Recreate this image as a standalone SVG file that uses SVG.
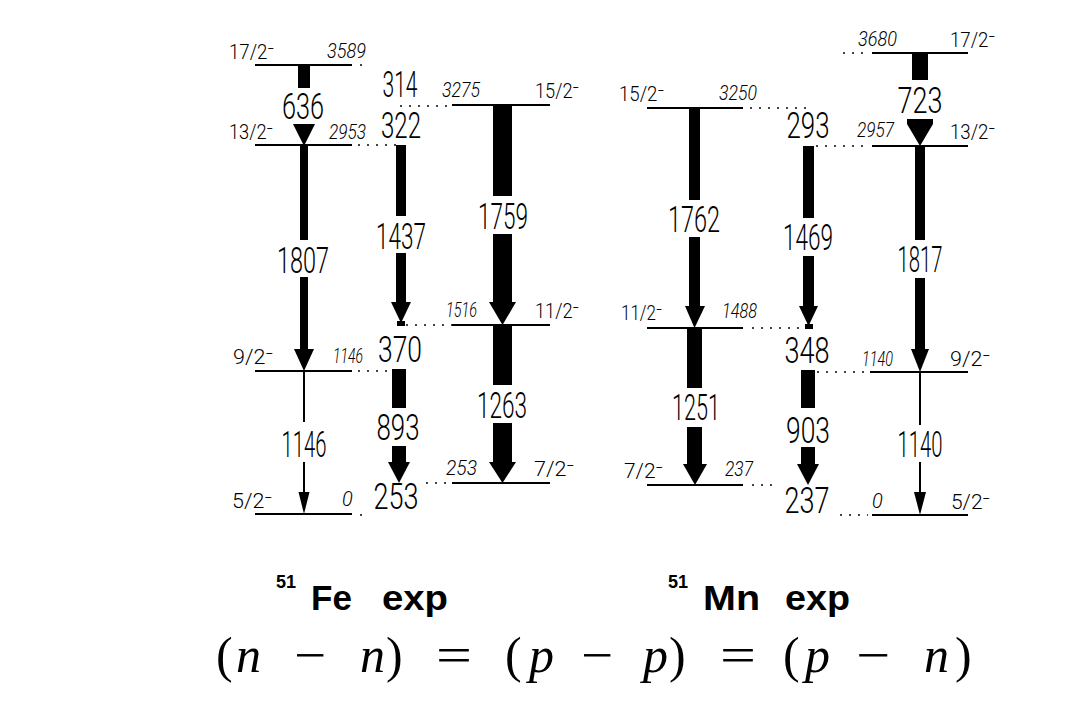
<svg xmlns="http://www.w3.org/2000/svg" width="1080" height="712" viewBox="0 0 1080 712">
<defs>
<style>
.lv{stroke:#000;stroke-width:2;fill:none}
.dt{stroke:#444;stroke-width:2;stroke-dasharray:2 7;fill:none}
.ar{fill:#000;stroke:none}
.tl{stroke:#000;stroke-width:2;fill:none}
.g{font-family:Roboto,"Liberation Sans",Arial,sans-serif;font-weight:300;font-size:36px;text-anchor:middle;fill:#000}
.e{font-family:Roboto,"Liberation Sans",Arial,sans-serif;font-weight:300;font-size:20px;font-style:italic;fill:#000}
.s{font-family:Roboto,"DejaVu Sans",sans-serif;font-weight:300;font-size:20px;fill:#000}
.t{font-family:"Liberation Sans",Arial,sans-serif;font-weight:bold;fill:#000}
.f{font-family:"Liberation Serif","Times New Roman",serif;font-size:50px;fill:#000}
.fi{font-family:"Liberation Serif","Times New Roman",serif;font-size:50px;font-style:italic;fill:#000}
</style>
</defs>
<rect width="1080" height="712" fill="#fff"/>

<!-- ===== 51Fe levels ===== -->
<g id="fe-3589">
<line class="lv" x1="255" y1="65" x2="352" y2="65"/>
<text class="s" x="229" y="59" textLength="45" lengthAdjust="spacingAndGlyphs">17/2⁻</text>
<text class="e" x="327" y="58" textLength="39" lengthAdjust="spacingAndGlyphs">3589</text>
</g>
<g id="fe-2953">
<line class="lv" x1="255" y1="145" x2="352" y2="145"/>
<text class="s" x="229" y="139" textLength="44" lengthAdjust="spacingAndGlyphs">13/2⁻</text>
<text class="e" x="329" y="139" textLength="37" lengthAdjust="spacingAndGlyphs">2953</text>
</g>
<g id="fe-1146">
<line class="lv" x1="255" y1="371" x2="352" y2="371"/>
<text class="s" x="233" y="364" textLength="40" lengthAdjust="spacingAndGlyphs">9/2⁻</text>
<text class="e" x="333" y="363" textLength="30" lengthAdjust="spacingAndGlyphs">1146</text>
</g>
<g id="fe-0">
<line class="lv" x1="255" y1="514" x2="352" y2="514"/>
<text class="s" x="232" y="508" textLength="40" lengthAdjust="spacingAndGlyphs">5/2⁻</text>
<text class="e" x="342" y="506">0</text>
</g>
<g id="fe-3275">
<line class="lv" x1="452" y1="105" x2="550" y2="105"/>
<text class="e" x="442" y="97" textLength="38" lengthAdjust="spacingAndGlyphs">3275</text>
<text class="s" x="535" y="98" textLength="44" lengthAdjust="spacingAndGlyphs">15/2⁻</text>
</g>
<g id="fe-1516">
<line class="lv" x1="452" y1="325" x2="550" y2="325"/>
<text class="e" x="446" y="317" textLength="31" lengthAdjust="spacingAndGlyphs">1516</text>
<text class="s" x="535" y="318" textLength="44" lengthAdjust="spacingAndGlyphs">11/2⁻</text>
</g>
<g id="fe-253">
<line class="lv" x1="452" y1="483" x2="550" y2="483"/>
<text class="e" x="446" y="475" textLength="31" lengthAdjust="spacingAndGlyphs">253</text>
<text class="s" x="534" y="476" textLength="40" lengthAdjust="spacingAndGlyphs">7/2⁻</text>
</g>

<!-- ===== 51Mn levels ===== -->
<g id="mn-3250">
<line class="lv" x1="647" y1="108" x2="743" y2="108"/>
<text class="s" x="619" y="101" textLength="45" lengthAdjust="spacingAndGlyphs">15/2⁻</text>
<text class="e" x="719" y="100" textLength="38" lengthAdjust="spacingAndGlyphs">3250</text>
</g>
<g id="mn-1488">
<line class="lv" x1="647" y1="328" x2="743" y2="328"/>
<text class="s" x="621" y="320" textLength="41" lengthAdjust="spacingAndGlyphs">11/2⁻</text>
<text class="e" x="722" y="318" textLength="35" lengthAdjust="spacingAndGlyphs">1488</text>
</g>
<g id="mn-237">
<line class="lv" x1="647" y1="485" x2="743" y2="485"/>
<text class="s" x="624" y="478" textLength="39" lengthAdjust="spacingAndGlyphs">7/2⁻</text>
<text class="e" x="725" y="476" textLength="28" lengthAdjust="spacingAndGlyphs">237</text>
</g>
<g id="mn-3680">
<line class="lv" x1="872" y1="53" x2="968" y2="53"/>
<text class="e" x="858" y="46" textLength="39" lengthAdjust="spacingAndGlyphs">3680</text>
<text class="s" x="950" y="47" textLength="45" lengthAdjust="spacingAndGlyphs">17/2⁻</text>
</g>
<g id="mn-2957">
<line class="lv" x1="872" y1="146" x2="968" y2="146"/>
<text class="e" x="857" y="137" textLength="37" lengthAdjust="spacingAndGlyphs">2957</text>
<text class="s" x="950" y="139" textLength="45" lengthAdjust="spacingAndGlyphs">13/2⁻</text>
</g>
<g id="mn-1140">
<line class="lv" x1="870" y1="372" x2="968" y2="372"/>
<text class="e" x="862" y="366" textLength="31" lengthAdjust="spacingAndGlyphs">1140</text>
<text class="s" x="950" y="366" textLength="40" lengthAdjust="spacingAndGlyphs">9/2⁻</text>
</g>
<g id="mn-0">
<line class="lv" x1="872" y1="515" x2="968" y2="515"/>
<text class="e" x="872" y="508">0</text>
<text class="s" x="951" y="509" textLength="39" lengthAdjust="spacingAndGlyphs">5/2⁻</text>
</g>

<!-- ===== connectors: transitions and dotted guides ===== -->
<g id="connectors">
<line class="dt" x1="360" y1="65" x2="366" y2="65"/>
<line class="dt" x1="358" y1="145" x2="398" y2="145"/>
<line class="dt" x1="400" y1="106" x2="451" y2="106"/>
<line class="dt" x1="406" y1="325" x2="452" y2="325"/>
<line class="dt" x1="358" y1="371" x2="396" y2="371"/>
<line class="dt" x1="426" y1="483" x2="452" y2="483"/>
<line class="dt" x1="360" y1="515" x2="366" y2="515"/>
<line class="dt" x1="750" y1="108" x2="812" y2="108"/>
<line class="dt" x1="816" y1="146" x2="870" y2="146"/>
<line class="dt" x1="843" y1="53" x2="870" y2="53"/>
<line class="dt" x1="752" y1="328" x2="800" y2="328"/>
<line class="dt" x1="817" y1="372" x2="868" y2="372"/>
<line class="dt" x1="752" y1="485" x2="776" y2="485"/>
<line class="dt" x1="840" y1="515" x2="868" y2="515"/>

<g id="g636">
<rect class="ar" x="298" y="65" width="12" height="23"/>
<polygon class="ar" points="293,124 315,124 304,146"/>
<text class="g" x="303" y="119" textLength="42" lengthAdjust="spacingAndGlyphs">636</text>
</g>
<g id="g1807">
<rect class="ar" x="300" y="145" width="8" height="95"/>
<rect class="ar" x="300" y="277" width="8" height="74"/>
<polygon class="ar" points="294,349 314,349 304,371"/>
<text class="g" x="303" y="273" textLength="52" lengthAdjust="spacingAndGlyphs">1807</text>
</g>
<g id="g1146">
<line class="tl" x1="304" y1="371" x2="304" y2="422"/>
<line class="tl" x1="304" y1="462" x2="304" y2="494"/>
<polygon class="ar" points="298.5,492 309.5,492 304,514"/>
<text class="g" x="304" y="457" textLength="45" lengthAdjust="spacingAndGlyphs">1146</text>
</g>
<g id="g314">
<text class="g" x="400" y="97" textLength="35" lengthAdjust="spacingAndGlyphs">314</text>
</g>
<g id="g322">
<text class="g" x="401" y="138" textLength="40" lengthAdjust="spacingAndGlyphs">322</text>
</g>
<g id="g1437">
<rect class="ar" x="396" y="145" width="10" height="71"/>
<rect class="ar" x="396" y="253" width="10" height="51"/>
<polygon class="ar" points="391,302 411,302 401,323"/>
<rect class="ar" x="397" y="321" width="8" height="5"/>
<text class="g" x="401" y="249" textLength="50" lengthAdjust="spacingAndGlyphs">1437</text>
</g>
<g id="g1759">
<rect class="ar" x="493" y="105" width="19" height="91"/>
<rect class="ar" x="493" y="234" width="19" height="70"/>
<polygon class="ar" points="489,302 516,302 502.5,325"/>
<text class="g" x="503" y="229" textLength="50" lengthAdjust="spacingAndGlyphs">1759</text>
</g>
<g id="g370">
<text class="g" x="400" y="362" textLength="44" lengthAdjust="spacingAndGlyphs">370</text>
</g>
<g id="g893">
<rect class="ar" x="392" y="369" width="14" height="39"/>
<rect class="ar" x="392" y="446" width="14" height="18"/>
<polygon class="ar" points="388,462 410,462 399,483"/>
<text class="g" x="398" y="440" textLength="43" lengthAdjust="spacingAndGlyphs">893</text>
</g>
<g id="g1263">
<rect class="ar" x="493" y="325" width="19" height="60"/>
<rect class="ar" x="493" y="423" width="19" height="41"/>
<polygon class="ar" points="489,462 516,462 502.5,483"/>
<text class="g" x="502" y="418" textLength="50" lengthAdjust="spacingAndGlyphs">1263</text>
</g>
<g id="g253">
<text class="g" x="396" y="509" textLength="45" lengthAdjust="spacingAndGlyphs">253</text>
</g>

<g id="g723">
<rect class="ar" x="912" y="53" width="16" height="27"/>
<polygon class="ar" points="907,119 933,119 933,124 920,146 907,124"/>
<text class="g" x="920" y="113" textLength="45" lengthAdjust="spacingAndGlyphs">723</text>
</g>
<g id="g1762">
<rect class="ar" x="689" y="108" width="11" height="92"/>
<rect class="ar" x="689" y="237" width="11" height="71"/>
<polygon class="ar" points="685,306 705,306 694.5,328"/>
<text class="g" x="694" y="232" textLength="52" lengthAdjust="spacingAndGlyphs">1762</text>
</g>
<g id="g1251">
<rect class="ar" x="687" y="328" width="15" height="60"/>
<rect class="ar" x="687" y="427" width="15" height="39"/>
<polygon class="ar" points="683,464 707,464 695,485"/>
<text class="g" x="696" y="420" textLength="48" lengthAdjust="spacingAndGlyphs">1251</text>
</g>
<g id="g293">
<text class="g" x="808" y="138" textLength="43" lengthAdjust="spacingAndGlyphs">293</text>
</g>
<g id="g1469">
<rect class="ar" x="803" y="146" width="11" height="72"/>
<rect class="ar" x="803" y="256" width="11" height="52"/>
<polygon class="ar" points="799,306 818,306 808.5,326"/>
<rect class="ar" x="805" y="324" width="8" height="5"/>
<text class="g" x="808" y="250" textLength="50" lengthAdjust="spacingAndGlyphs">1469</text>
</g>
<g id="g348">
<text class="g" x="807" y="363" textLength="45" lengthAdjust="spacingAndGlyphs">348</text>
</g>
<g id="g903">
<rect class="ar" x="801" y="370" width="14" height="38"/>
<rect class="ar" x="801" y="447" width="14" height="19"/>
<polygon class="ar" points="797,464 819,464 808,485"/>
<text class="g" x="808" y="443" textLength="44" lengthAdjust="spacingAndGlyphs">903</text>
</g>
<g id="g237">
<text class="g" x="807" y="513" textLength="45" lengthAdjust="spacingAndGlyphs">237</text>
</g>
<g id="g1817">
<rect class="ar" x="915" y="146" width="10" height="94"/>
<rect class="ar" x="915" y="278" width="10" height="73"/>
<polygon class="ar" points="911,349 929,349 920,372"/>
<text class="g" x="920" y="272" textLength="45" lengthAdjust="spacingAndGlyphs">1817</text>
</g>
<g id="g1140">
<line class="tl" x1="920" y1="372" x2="920" y2="425"/>
<line class="tl" x1="920" y1="462" x2="920" y2="494"/>
<polygon class="ar" points="914,492 926,492 920,515"/>
<text class="g" x="920" y="457" textLength="45" lengthAdjust="spacingAndGlyphs">1140</text>
</g>
</g>

<g id="title-fe">
<text class="t" x="276" y="588" font-size="18">51</text>
<text class="t" x="311" y="610" font-size="35">Fe</text>
<text class="t" x="382" y="610" font-size="35" textLength="66" lengthAdjust="spacingAndGlyphs">exp</text>
</g>
<g id="title-mn">
<text class="t" x="668" y="588" font-size="18">51</text>
<text class="t" x="703" y="610" font-size="35" textLength="57" lengthAdjust="spacingAndGlyphs">Mn</text>
<text class="t" x="785" y="610" font-size="35" textLength="65" lengthAdjust="spacingAndGlyphs">exp</text>
</g>
<g id="formula">
<text class="f" x="216" y="672">(</text>
<text class="fi" x="236" y="672">n</text>
<text class="f" x="294" y="672" textLength="32" lengthAdjust="spacingAndGlyphs">−</text>
<text class="fi" x="360" y="672">n</text>
<text class="f" x="386" y="672">)</text>
<text class="f" x="436" y="672" textLength="36" lengthAdjust="spacingAndGlyphs">=</text>
<text class="f" x="505" y="672">(</text>
<text class="fi" x="529" y="672">p</text>
<text class="f" x="581" y="672" textLength="32" lengthAdjust="spacingAndGlyphs">−</text>
<text class="fi" x="643" y="672">p</text>
<text class="f" x="669" y="672">)</text>
<text class="f" x="720" y="672" textLength="36" lengthAdjust="spacingAndGlyphs">=</text>
<text class="f" x="783" y="672">(</text>
<text class="fi" x="805" y="672">p</text>
<text class="f" x="856" y="672" textLength="34" lengthAdjust="spacingAndGlyphs">−</text>
<text class="fi" x="924" y="672">n</text>
<text class="f" x="955" y="672">)</text>
</g>
</svg>
